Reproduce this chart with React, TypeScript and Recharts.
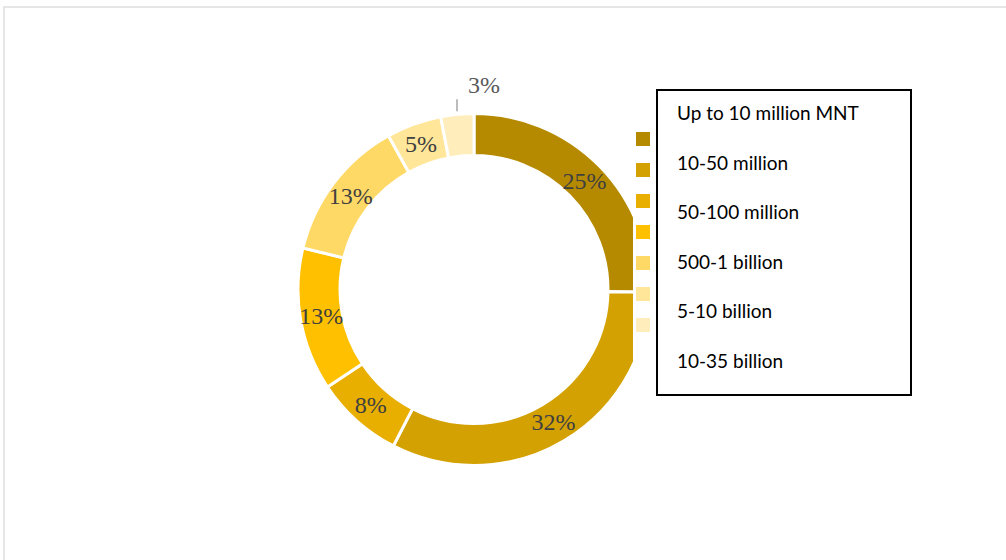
import React from "react";
import { PieChart, Pie, Cell, Legend } from "recharts";

const sliceNames = [
  "Up to 10 million MNT",
  "10-50 million",
  "50-100 million",
  "100-500 million",
  "500-1 billion",
  "5-10 billion",
  "10-35 billion",
];
const sliceValues = [25, 32, 8, 13, 13, 5, 3];
const sliceColors = ["#B58A00", "#D4A102", "#E8AE00", "#FFC000", "#FFD966", "#FFE699", "#FFEDBC"];
const legendLabels = [
  "Up to 10 million MNT",
  "10-50 million",
  "50-100 million",
  "500-1 billion",
  "5-10 billion",
  "10-35 billion",
];

const data = sliceNames.map((name, i) => ({ name, value: sliceValues[i] }));

const RAD = Math.PI / 180;

function renderLabel(props: any) {
  const { cx, cy, midAngle, innerRadius, outerRadius, value, index } = props;
  const cos = Math.cos(-midAngle * RAD);
  const sin = Math.sin(-midAngle * RAD);
  if (value < 4) {
    // small slice: short vertical leader line, label above
    const sx = cx + (outerRadius + 3) * cos;
    const sy = cy + (outerRadius + 3) * sin;
    const ey = sy - 12;
    return (
      <g key={`lbl-${index}`}>
        <line x1={sx} y1={sy} x2={sx} y2={ey} stroke="#a6a6a6" strokeWidth={1.5} />
        <text
          x={sx + 27}
          y={ey - 14}
          textAnchor="middle"
          dominantBaseline="central"
          fontFamily="'Liberation Serif', serif"
          fontSize={24}
          fill="#595959"
        >
          {value}%
        </text>
      </g>
    );
  }
  const r = (innerRadius + outerRadius) / 2;
  return (
    <text
      key={`lbl-${index}`}
      x={cx + r * cos}
      y={cy + r * sin}
      textAnchor="middle"
      dominantBaseline="central"
      fontFamily="'Liberation Serif', serif"
      fontSize={24}
      fill="#404040"
    >
      {value}%
    </text>
  );
}

function LegendBox() {
  return (
    <div style={{ position: "relative", width: 282, height: 307, background: "#fff" }}>
      {sliceColors.map((c, i) => (
        <div
          key={c}
          style={{
            position: "absolute",
            left: 3,
            top: 43 + i * 31,
            width: 14,
            height: 14,
            background: c,
          }}
        />
      ))}
      <div
        style={{
          position: "absolute",
          left: 23,
          top: 0,
          width: 256,
          height: 307,
          border: "2px solid #000",
          boxSizing: "border-box",
        }}
      >
        {legendLabels.map((l, i) => (
          <div
            key={l}
            style={{
              position: "absolute",
              left: 19,
              top: 22 + i * 49.6 - 13,
              height: 26,
              lineHeight: "26px",
              fontFamily: "Lato, 'Open Sans', sans-serif",
              fontSize: 19,
              color: "#000",
              whiteSpace: "nowrap",
            }}
          >
            {l}
          </div>
        ))}
      </div>
    </div>
  );
}

export default function App() {
  return (
    <div
      style={{
        position: "absolute",
        left: 0,
        top: 0,
        width: 1006,
        height: 560,
        overflow: "hidden",
        background: "#fff",
      }}
    >
      <div
        style={{
          position: "absolute",
          left: 3,
          top: 6,
          width: 1100,
          height: 700,
          borderTop: "2px solid #e6e6e6",
          borderLeft: "2px solid #e6e6e6",
        }}
      />
      <PieChart width={1006} height={560} style={{ position: "absolute", left: 0, top: 0 }}>
        <Pie
          data={data}
          dataKey="value"
          nameKey="name"
          cx={469}
          cy={284.5}
          innerRadius={134}
          outerRadius={176}
          startAngle={90}
          endAngle={-270}
          stroke="#fff"
          strokeWidth={3}
          label={renderLabel}
          labelLine={false}
          isAnimationActive={false}
        >
          {data.map((d, i) => (
            <Cell key={d.name} fill={sliceColors[i]} />
          ))}
        </Pie>
        <Legend
          content={() => <LegendBox />}
          wrapperStyle={{ position: "absolute", left: 633, top: 89, width: 282, height: 307 }}
        />
      </PieChart>
    </div>
  );
}
